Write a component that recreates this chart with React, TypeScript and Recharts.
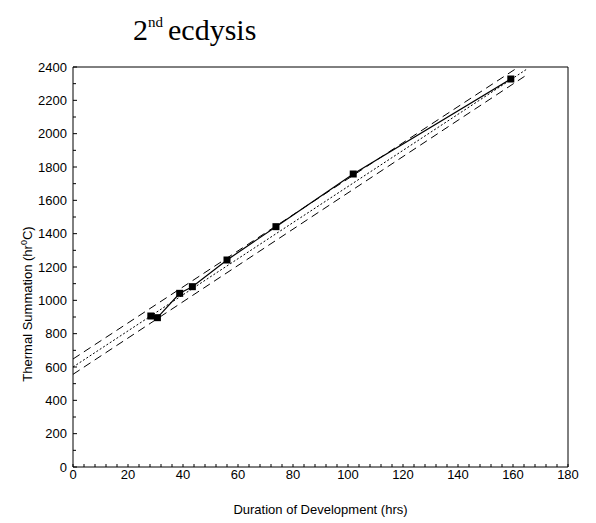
import { ComposedChart, Line, XAxis, YAxis } from 'recharts';

// observed development points
const durationHrs = [28.3, 30.7, 38.8, 43.4, 56.0, 73.8, 101.9, 159.2];
const thermalSum = [906, 896, 1042, 1082, 1242, 1442, 1758, 2328];

// fitted regression line and its confidence band (end points)
const fitX = [0, 165];
const fitY = [600, 2387];
const upperX = [0, 162];
const upperY = [648, 2400];
const lowerX = [0, 165.5];
const lowerY = [556, 2358];

const xMajorTicks = [0, 20, 40, 60, 80, 100, 120, 140, 160, 180];
const yMajorTicks = [0, 200, 400, 600, 800, 1000, 1200, 1400, 1600, 1800, 2000, 2200, 2400];
const xMinorStep = 4;
const yMinorStep = 100;

const points = durationHrs.map((x, i) => ({ x, y: thermalSum[i] }));
const toSeries = (xs: number[], ys: number[]) => xs.map((x, i) => ({ x, y: ys[i] }));
const fitLine = toSeries(fitX, fitY);
const upperLine = toSeries(upperX, upperY);
const lowerLine = toSeries(lowerX, lowerY);

const xTicks: number[] = [];
for (let v = 0; v <= 180; v += xMinorStep) xTicks.push(v);
const yTicks: number[] = [];
for (let v = 0; v <= 2400; v += yMinorStep) yTicks.push(v);

const W = 580;
const H = 512;
const LEFT = 65;
const TOP = 59;
const RIGHT = 560;
const BOTTOM = 459;
const FONT = 'Arial, "Liberation Sans", sans-serif';

const BottomTick = (props: any) => {
  const { x, payload } = props;
  const v = payload.value;
  const major = xMajorTicks.includes(v);
  return (
    <g>
      <line x1={x} x2={x} y1={BOTTOM} y2={BOTTOM - 3} stroke="#000" />
      {major && (
        <text x={x} y={BOTTOM + 12} textAnchor="middle" fontSize={13} fontFamily={FONT} fill="#000">
          {v}
        </text>
      )}
    </g>
  );
};

const TopTick = (props: any) => {
  const { x } = props;
  return <line x1={x} x2={x} y1={TOP} y2={TOP + 3} stroke="#000" />;
};

const LeftTick = (props: any) => {
  const { y, payload } = props;
  const v = payload.value;
  const major = yMajorTicks.includes(v);
  return (
    <g>
      <line x1={LEFT} x2={LEFT + (major ? 4 : 3)} y1={y} y2={y} stroke="#000" />
      {major && (
        <text x={LEFT - 6} y={y + 4.5} textAnchor="end" fontSize={13} fontFamily={FONT} fill="#000">
          {v}
        </text>
      )}
    </g>
  );
};

const RightTick = (props: any) => {
  const { y, payload } = props;
  const major = yMajorTicks.includes(payload.value);
  return <line x1={RIGHT} x2={RIGHT - (major ? 4 : 3)} y1={y} y2={y} stroke="#000" />;
};

const SquareDot = (props: any) => {
  const { cx, cy, index } = props;
  return <rect key={index} x={cx - 3.5} y={cy - 3.5} width={7} height={7} fill="#000" />;
};

const YLabel = () => (
  <text
    transform={`translate(24, 296) rotate(-90)`}
    textAnchor="middle"
    fontSize={13}
    fontFamily={FONT}
    fill="#000"
  >
    Thermal Summation (hr
    <tspan fontSize={9} dy={-5}>0</tspan>
    <tspan dy={5}>C)</tspan>
  </text>
);

export default function App() {
  return (
    <div style={{ position: 'relative', width: W, height: H }}>
      <div
        style={{
          position: 'absolute',
          left: 125,
          top: 7,
          fontFamily: '"Liberation Serif", "Times New Roman", serif',
          fontSize: 30,
          lineHeight: '30px',
          whiteSpace: 'nowrap',
          color: '#000',
        }}
      >
        2<span style={{ fontSize: 15, position: 'relative', top: -13 }}>nd</span>
        <span style={{ marginLeft: 5 }}>ecdysis</span>
      </div>
      <ComposedChart
        width={W}
        height={H}
        margin={{ top: TOP - 1, right: W - RIGHT - 1, bottom: H - BOTTOM - 28, left: 0 }}
      >
        <XAxis
          xAxisId="bottom"
          type="number"
          dataKey="x"
          domain={[0, 180]}
          ticks={xTicks}
          interval={0}
          height={28}
          tick={<BottomTick />}
          tickLine={false}
          axisLine={{ stroke: '#000' }}
          label={{
            value: 'Duration of Development (hrs)',
            position: 'insideBottom',
            offset: -19,
            fontSize: 13,
            fontFamily: FONT,
            fill: '#000',
          }}
        />
        <XAxis
          xAxisId="top"
          orientation="top"
          type="number"
          dataKey="x"
          domain={[0, 180]}
          ticks={xTicks}
          interval={0}
          height={1}
          tick={<TopTick />}
          tickLine={false}
          axisLine={{ stroke: '#000' }}
        />
        <YAxis
          yAxisId="left"
          type="number"
          dataKey="y"
          domain={[0, 2400]}
          ticks={yTicks}
          interval={0}
          width={LEFT}
          tick={<LeftTick />}
          tickLine={false}
          axisLine={{ stroke: '#000' }}
          label={<YLabel />}
        />
        <YAxis
          yAxisId="right"
          orientation="right"
          type="number"
          dataKey="y"
          domain={[0, 2400]}
          ticks={yTicks}
          interval={0}
          width={1}
          tick={<RightTick />}
          tickLine={false}
          axisLine={{ stroke: '#000' }}
        />
        <Line
          xAxisId="bottom"
          yAxisId="left"
          data={upperLine}
          dataKey="y"
          stroke="#000"
          strokeWidth={1}
          strokeDasharray="8 5"
          dot={false}
          isAnimationActive={false}
        />
        <Line
          xAxisId="bottom"
          yAxisId="left"
          data={lowerLine}
          dataKey="y"
          stroke="#000"
          strokeWidth={1}
          strokeDasharray="8 5"
          dot={false}
          isAnimationActive={false}
        />
        <Line
          xAxisId="bottom"
          yAxisId="left"
          data={fitLine}
          dataKey="y"
          stroke="#000"
          strokeWidth={1}
          strokeDasharray="2 2"
          dot={false}
          isAnimationActive={false}
        />
        <Line
          xAxisId="bottom"
          yAxisId="left"
          data={points}
          dataKey="y"
          stroke="#000"
          strokeWidth={1.2}
          dot={<SquareDot />}
          isAnimationActive={false}
        />
      </ComposedChart>
    </div>
  );
}
